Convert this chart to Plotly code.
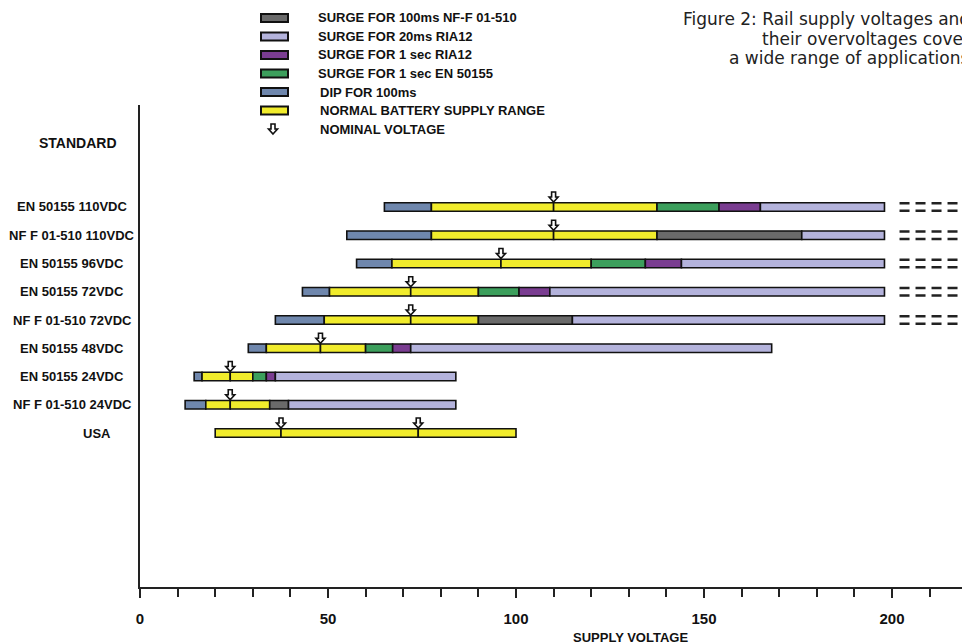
import plotly.graph_objects as go

# rows listed top to bottom
STANDARDS = [
    "EN 50155 110VDC",
    "NF F 01-510 110VDC",
    "EN 50155 96VDC",
    "EN 50155 72VDC",
    "NF F 01-510 72VDC",
    "EN 50155 48VDC",
    "EN 50155 24VDC",
    "NF F 01-510 24VDC",
    "USA",
]
DIP_FROM = [65, 55, 57.6, 43.2, 36, 28.8, 14.4, 12, None]
NORMAL_FROM = [77.5, 77.5, 67, 50.4, 49, 33.6, 16.5, 17.5, 20]
NOMINALS = [[110], [110], [96], [72], [72], [48], [24], [24], [37.5, 74]]
NORMAL_TO = [137.5, 137.5, 120, 90, 90, 60, 30, 34.5, 100]
SURGE_EN50155_1S_TO = [154, None, 134.4, 100.8, None, 67.2, 33.6, None, None]
SURGE_RIA12_1S_TO = [165, None, 144, 109, None, 72, 36, None, None]
SURGE_NFF_100MS_TO = [None, 176, None, None, 115, None, None, 39.5, None]
SURGE_RIA12_20MS_TO = [198, 198, 198, 198, 198, 168, 84, 84, None]
CONTINUES = [True, True, True, True, True, False, False, False, False]

X_TICKS = [0, 50, 100, 150, 200]

LEGEND = [
    ("SURGE FOR 100ms NF-F 01-510", "nff"),
    ("SURGE FOR 20ms RIA12", "ria20"),
    ("SURGE FOR 1 sec RIA12", "ria1"),
    ("SURGE FOR 1 sec EN 50155", "en1"),
    ("DIP FOR 100ms", "dip"),
    ("NORMAL BATTERY SUPPLY RANGE", "normal"),
    ("NOMINAL VOLTAGE", None),
]

TITLE_LINES = [
    "Figure 2: Rail supply voltages and",
    "their overvoltages cover",
    "a wide range of applications",
]

COLORS = {
    "dip": "#6f87ad",
    "normal": "#f1ec2c",
    "en1": "#3c9f5c",
    "ria1": "#7a3d91",
    "nff": "#6a6a6a",
    "ria20": "#b4b3dc",
}

W, H = 962, 644
L, R, T, B = 140, 0, 105, 57
BAR_W = 0.3

# hollow down arrow, pixel offsets (up is positive), tip at the bottom
ARROW = "M0,{a} L4.5,{b} L2,{b} L2,{c} L-2,{c} L-2,{b} L-4.5,{b} Z"


def paper_x(px):
    return (px - L) / (W - L - R)


def paper_y(py):
    return (H - B - py) / (H - B - T)


def arrow_path(tip):
    return ARROW.format(a=tip, b=tip + 5, c=tip + 10)


n = len(STANDARDS)
rows = [n - 1 - i for i in range(n)]

segs = {k: {"y": [], "base": [], "x": []} for k in COLORS}


def add(kind, row, lo, hi):
    segs[kind]["y"].append(row)
    segs[kind]["base"].append(lo)
    segs[kind]["x"].append(hi - lo)


for i in range(n):
    row = rows[i]
    if DIP_FROM[i] is not None:
        add("dip", row, DIP_FROM[i], NORMAL_FROM[i])
    # normal range, split at each nominal voltage
    cuts = [NORMAL_FROM[i]] + NOMINALS[i] + [NORMAL_TO[i]]
    for lo, hi in zip(cuts[:-1], cuts[1:]):
        add("normal", row, lo, hi)
    lo = NORMAL_TO[i]
    for kind, arr in [("en1", SURGE_EN50155_1S_TO), ("ria1", SURGE_RIA12_1S_TO),
                      ("nff", SURGE_NFF_100MS_TO), ("ria20", SURGE_RIA12_20MS_TO)]:
        if arr[i] is not None:
            add(kind, row, lo, arr[i])
            lo = arr[i]

fig = go.Figure()

for kind, d in segs.items():
    fig.add_trace(go.Bar(
        orientation="h", y=d["y"], x=d["x"], base=d["base"], width=BAR_W,
        marker=dict(color=COLORS[kind], line=dict(color="#111", width=1.6)),
        hoverinfo="skip", showlegend=False,
    ))

# continuation dashes for rows running past 200 V
for i in range(n):
    if not CONTINUES[i]:
        continue
    start = SURGE_RIA12_20MS_TO[i] + 4
    for off in (-BAR_W / 2 + 0.02, BAR_W / 2 - 0.02):
        fig.add_trace(go.Scatter(
            x=[start, 240], y=[rows[i] + off] * 2, mode="lines",
            line=dict(color="#222", width=2.5, dash="10px,6px"),
            hoverinfo="skip", showlegend=False,
        ))

shapes = []
# nominal voltage arrows above the bars
for i in range(n):
    for v in NOMINALS[i]:
        shapes.append(dict(
            type="path", xref="x", yref="y", xsizemode="pixel", ysizemode="pixel",
            xanchor=v, yanchor=rows[i], path=arrow_path(5),
            fillcolor="white", line=dict(color="#111", width=1.6),
        ))

ann = []
for i in range(n):
    cx = 97 if STANDARDS[i] == "USA" else 72
    ann.append(dict(
        x=paper_x(cx), xref="paper", y=rows[i], yref="y", text=STANDARDS[i],
        showarrow=False, xanchor="center", yanchor="middle",
        font=dict(family="Liberation Sans", size=13, color="#111", weight="bold"),
    ))

ann.append(dict(
    x=paper_x(78), xref="paper", y=paper_y(143), yref="paper", text="STANDARD",
    showarrow=False, xanchor="center", yanchor="middle",
    font=dict(family="Liberation Sans", size=14, color="#111", weight="bold"),
))
ann.append(dict(
    x=paper_x(630), xref="paper", y=paper_y(637), yref="paper", text="SUPPLY VOLTAGE",
    showarrow=False, xanchor="center", yanchor="middle",
    font=dict(family="Liberation Sans", size=13, color="#111", weight="bold"),
))

# caption is right-aligned just past the right edge of the image, as in the source
for k, txt in enumerate(TITLE_LINES):
    ann.append(dict(
        x=paper_x(972), xref="paper", y=paper_y(19 + k * 19.5), yref="paper", text=txt,
        showarrow=False, xanchor="right", yanchor="middle",
        font=dict(family="DejaVu Sans", size=17, color="#222"),
    ))

for k, (label, kind) in enumerate(LEGEND):
    ly = 18 + k * 18.5
    if kind is not None:
        shapes.append(dict(
            type="rect", xref="paper", yref="paper",
            x0=paper_x(261), x1=paper_x(288), y0=paper_y(ly - 4), y1=paper_y(ly + 4),
            fillcolor=COLORS[kind], line=dict(color="#111", width=2),
        ))
    else:
        shapes.append(dict(
            type="path", xref="paper", yref="paper", xsizemode="pixel", ysizemode="pixel",
            xanchor=paper_x(273), yanchor=paper_y(ly), path=arrow_path(-5),
            fillcolor="white", line=dict(color="#111", width=1.6),
        ))
    ann.append(dict(
        x=paper_x(316 if k < 4 else 318), xref="paper", y=paper_y(ly), yref="paper",
        text=label, showarrow=False, xanchor="left", yanchor="middle",
        font=dict(family="Liberation Sans", size=13, color="#111", weight="bold"),
    ))

fig.update_layout(
    width=W, height=H,
    margin=dict(l=L, r=R, t=T, b=B),
    paper_bgcolor="white", plot_bgcolor="white",
    barmode="overlay",
    annotations=ann, shapes=shapes,
    xaxis=dict(
        range=[0, (W - L - R) / 3.76], showgrid=False, zeroline=False,
        showline=True, linecolor="#222", linewidth=2,
        tickvals=X_TICKS, ticks="outside", ticklen=9, tickwidth=2, tickcolor="#222",
        ticklabelstandoff=8,
        tickfont=dict(family="Liberation Sans", size=15, color="#111", weight="bold"),
        minor=dict(dtick=10, ticks="outside", ticklen=8, tickwidth=2, tickcolor="#222"),
    ),
    yaxis=dict(
        range=[-5.45, 11.61], showgrid=False, zeroline=False,
        showline=True, linecolor="#222", linewidth=2,
        showticklabels=False, ticks="",
    ),
)

# page body has a default 8px margin; drop it so the figure sits at the corner
fig.write_html(
    "out.html",
    config={"displayModeBar": False},
    post_script="document.body.style.margin = '0';",
)
